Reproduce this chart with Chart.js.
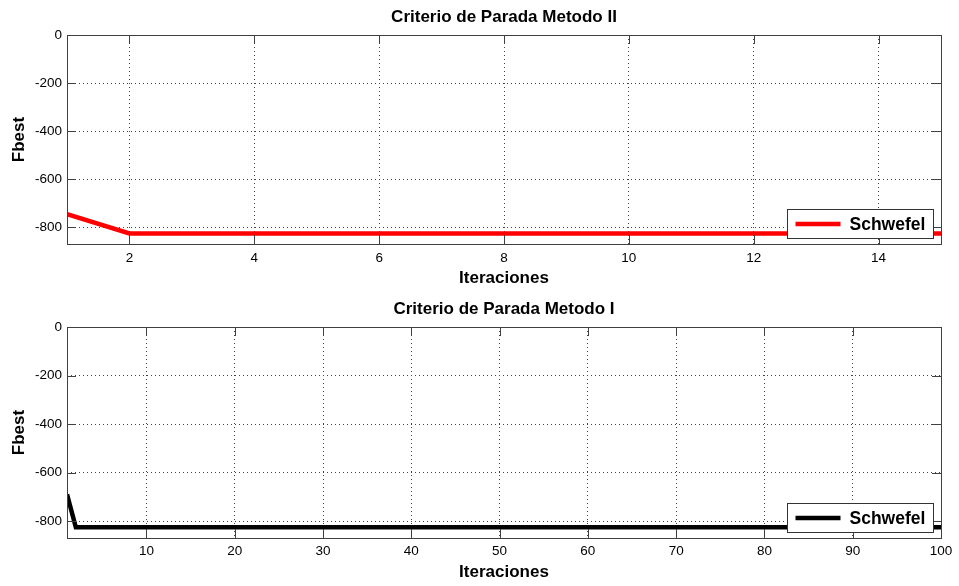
<!DOCTYPE html>
<html>
<head>
<meta charset="utf-8">
<title>Criterio de Parada</title>
<script src="https://cdn.jsdelivr.net/npm/chart.js@4/dist/chart.umd.min.js"></script>
<style>
  html, body { margin: 0; padding: 0; background: #ffffff; }
  #wrap { position: relative; width: 959px; height: 586px; overflow: hidden; }
  .panel { position: absolute; left: 0; width: 959px; }
</style>
</head>
<body>
<div id="wrap">
  <div class="panel" style="top:0px;height:292px"><canvas id="c1" width="959" height="292"></canvas></div>
  <div class="panel" style="top:292px;height:294px"><canvas id="c2" width="959" height="294"></canvas></div>
</div>
<script>
// Metodo II: best fitness per iteration
const iterII = [1, 2, 3, 4, 5, 6, 7, 8, 9, 10, 11, 12, 13, 14, 15];
const fbestII = [-746, -826, -826, -826, -826, -826, -826, -826, -826, -826, -826, -826, -826, -826, -826];

// Metodo I: best fitness per iteration
const iterI = [
  1, 2, 3, 4, 5, 6, 7, 8, 9, 10, 11, 12, 13, 14, 15, 16, 17, 18, 19, 20,
  21, 22, 23, 24, 25, 26, 27, 28, 29, 30, 31, 32, 33, 34, 35, 36, 37, 38, 39, 40,
  41, 42, 43, 44, 45, 46, 47, 48, 49, 50, 51, 52, 53, 54, 55, 56, 57, 58, 59, 60,
  61, 62, 63, 64, 65, 66, 67, 68, 69, 70, 71, 72, 73, 74, 75, 76, 77, 78, 79, 80,
  81, 82, 83, 84, 85, 86, 87, 88, 89, 90, 91, 92, 93, 94, 95, 96, 97, 98, 99, 100
];
const fbestI = [
  -690, -826, -826, -826, -826, -826, -826, -826, -826, -826, -826, -826, -826, -826, -826, -826, -826, -826, -826, -826,
  -826, -826, -826, -826, -826, -826, -826, -826, -826, -826, -826, -826, -826, -826, -826, -826, -826, -826, -826, -826,
  -826, -826, -826, -826, -826, -826, -826, -826, -826, -826, -826, -826, -826, -826, -826, -826, -826, -826, -826, -826,
  -826, -826, -826, -826, -826, -826, -826, -826, -826, -826, -826, -826, -826, -826, -826, -826, -826, -826, -826, -826,
  -826, -826, -826, -826, -826, -826, -826, -826, -826, -826, -826, -826, -826, -826, -826, -826, -826, -826, -826, -826
];

// Tick labels
const yTicks = [0, -200, -400, -600, -800];
const xTicksII = [2, 4, 6, 8, 10, 12, 14];
const xTicksI = [10, 20, 30, 40, 50, 60, 70, 80, 90, 100];

const FONT = '"Liberation Sans", Arial, Helvetica, sans-serif';

// Axes box with inward tick marks on all four sides
const axesBox = {
  id: 'axesBox',
  afterDatasetsDraw(chart) {
    const { ctx, chartArea: a, scales: { x, y } } = chart;
    const L = 9;
    ctx.save();
    ctx.strokeStyle = '#404040';
    ctx.lineWidth = 1;
    ctx.setLineDash([]);
    ctx.beginPath();
    x.ticks.forEach(t => {
      const px = Math.round(x.getPixelForValue(t.value)) + 0.5;
      ctx.moveTo(px, a.bottom); ctx.lineTo(px, a.bottom - L);
      ctx.moveTo(px, a.top); ctx.lineTo(px, a.top + L);
    });
    y.ticks.forEach(t => {
      const py = Math.round(y.getPixelForValue(t.value)) + 0.5;
      ctx.moveTo(a.left, py); ctx.lineTo(a.left + L, py);
      ctx.moveTo(a.right, py); ctx.lineTo(a.right - L, py);
    });
    ctx.stroke();
    ctx.strokeRect(Math.round(a.left) + 0.5, Math.round(a.top) + 0.5,
                   Math.round(a.right - a.left), Math.round(a.bottom - a.top));
    ctx.restore();
  }
};

// Boxed legend in the lower right corner of the plot area
const cornerLegend = {
  id: 'cornerLegend',
  afterDraw(chart) {
    const { ctx, chartArea: a } = chart;
    const ds = chart.data.datasets[0];
    const w = 146, h = 29;
    const x0 = Math.round(a.right - 8 - w) + 0.5;
    const y0 = Math.round(a.bottom - 6 - h) + 0.5;
    ctx.save();
    ctx.fillStyle = '#ffffff';
    ctx.fillRect(x0, y0, w, h);
    ctx.strokeStyle = '#333333';
    ctx.lineWidth = 1;
    ctx.strokeRect(x0, y0, w, h);
    const cy = y0 + h / 2;
    ctx.strokeStyle = ds.borderColor;
    ctx.lineWidth = ds.borderWidth;
    ctx.beginPath();
    ctx.moveTo(x0 + 8, cy);
    ctx.lineTo(x0 + 53, cy);
    ctx.stroke();
    ctx.fillStyle = '#000000';
    ctx.font = 'bold 17.5px ' + FONT;
    ctx.textBaseline = 'middle';
    ctx.textAlign = 'left';
    ctx.fillText(ds.label, x0 + 62, cy + 1);
    ctx.restore();
  }
};

function makeChart(id, opts) {
  const fixedTicks = vals => scale => { scale.ticks = vals.map(v => ({ value: v })); };
  return new Chart(document.getElementById(id), {
    type: 'line',
    data: {
      labels: opts.labels,
      datasets: [{
        label: 'Schwefel',
        data: opts.values,
        borderColor: opts.color,
        borderWidth: 4.5,
        pointRadius: 0,
        tension: 0,
        fill: false
      }]
    },
    options: {
      responsive: false,
      animation: false,
      devicePixelRatio: 1,
      layout: { padding: { left: 0, right: 18, top: 0, bottom: 0 } },
      plugins: {
        legend: { display: false },
        tooltip: { enabled: false },
        title: {
          display: true,
          text: opts.title,
          fullSize: false,
          color: '#000000',
          font: { family: FONT, size: 17, weight: 'bold', lineHeight: 1.2 },
          padding: { top: opts.titleTop, bottom: 35 - 20.4 - opts.titleTop }
        }
      },
      scales: {
        x: {
          type: 'linear',
          min: opts.xmin,
          max: opts.xmax,
          afterBuildTicks: fixedTicks(opts.xTicks),
          afterFit: s => { s.height = opts.xHeight; },
          grid: { color: '#444444', lineWidth: 1, drawTicks: false },
          border: { display: false, dash: [1, 3] },
          ticks: {
            color: '#000000', autoSkip: false, maxRotation: 0, padding: opts.xPad,
            font: { family: FONT, size: 13.5 }
          },
          title: {
            display: true, text: 'Iteraciones', color: '#000000',
            font: { family: FONT, size: 17, weight: 'bold' },
            padding: { top: 0, bottom: opts.xTitlePad }
          }
        },
        y: {
          type: 'linear',
          min: -870,
          max: 0,
          afterBuildTicks: fixedTicks(yTicks),
          afterFit: s => { s.width = 67; },
          grid: { color: '#444444', lineWidth: 1, drawTicks: false },
          border: { display: false, dash: [1, 3] },
          ticks: {
            color: '#000000', padding: 5,
            font: { family: FONT, size: 13.5 }
          },
          title: {
            display: true, text: 'Fbest', color: '#000000',
            font: { family: FONT, size: 17, weight: 'bold' },
            padding: { top: 9, bottom: 0 }
          }
        }
      }
    },
    plugins: [axesBox, cornerLegend]
  });
}

makeChart('c1', {
  labels: iterII, values: fbestII, color: '#ff0000',
  title: 'Criterio de Parada Metodo II', titleTop: 6.8,
  xmin: 1, xmax: 15, xTicks: xTicksII,
  xHeight: 48, xPad: 6, xTitlePad: 3
});

makeChart('c2', {
  labels: iterI, values: fbestI, color: '#000000',
  title: 'Criterio de Parada Metodo I', titleTop: 6.8,
  xmin: 1, xmax: 100, xTicks: xTicksI,
  xHeight: 48, xPad: 5, xTitlePad: 3
});
</script>
</body>
</html>
